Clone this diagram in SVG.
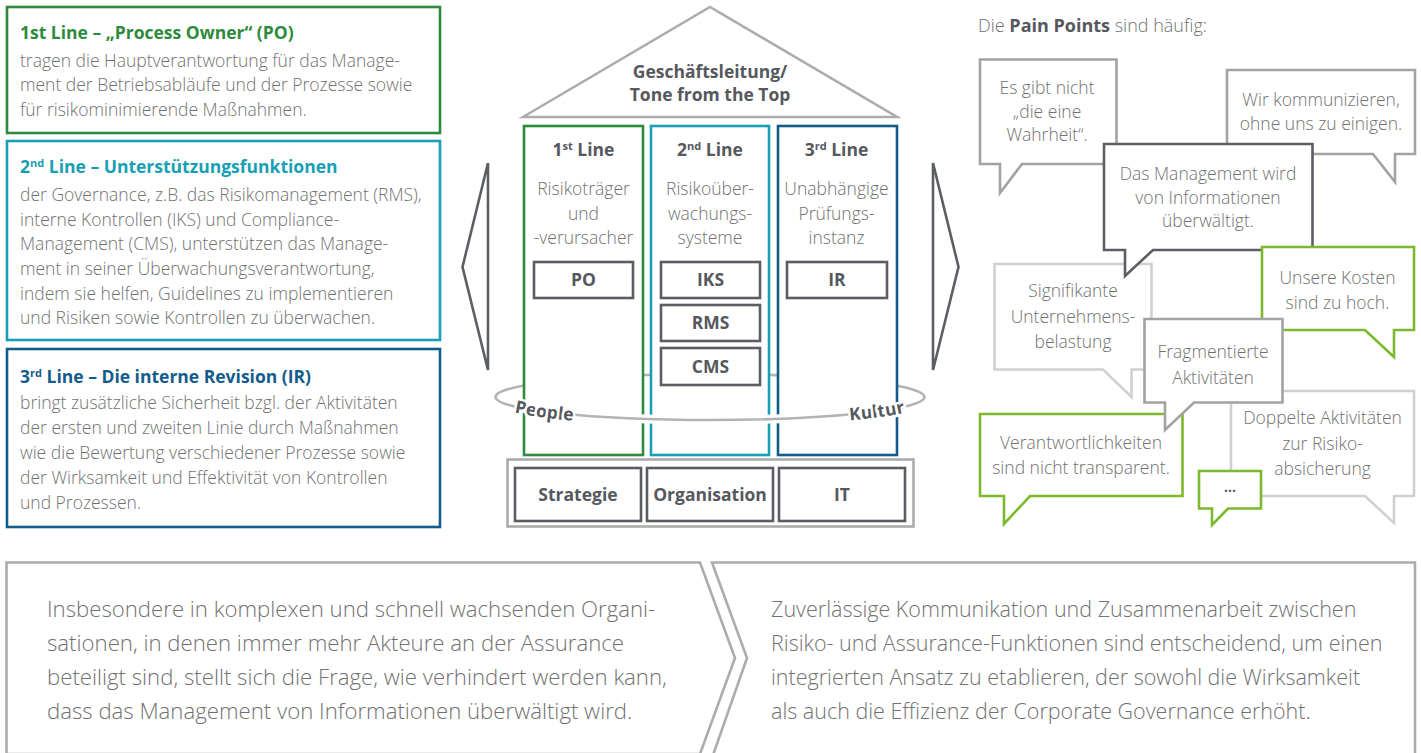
<svg xmlns="http://www.w3.org/2000/svg" width="1421" height="753" viewBox="0 0 1421 753">
<style>
text{font-family:"Open Sans","Liberation Sans",sans-serif;}
.t{font-weight:300;font-size:17.5px;fill:#717171}
.tb{font-weight:300;font-size:21.5px;fill:#717171}
.tbl{font-size:22.2px}
.hd{font-size:18px}
.h{font-weight:700;font-size:17.5px}
.c{text-anchor:middle}
.dk{fill:#55585d}
.g1{fill:#2e8a3c}.g2{fill:#17a0b4}.g3{fill:#135c8c}
.s1{stroke:#2e8a3c}.s2{stroke:#17a0b4}.s3{stroke:#135c8c}
.frame{fill:#fff;stroke-width:2.6}
.box{fill:#fff;stroke:#5a5d62;stroke-width:2.6}
.lg{fill:#fff;stroke:#acacac;stroke-width:2.6}
.bub{fill:#fff;stroke-width:2.6;stroke-linejoin:miter}
.bm{stroke:#a2a2a2}.bd{stroke:#5b5e63}.bg{stroke:#7cb92c}.bl{stroke:#d0d0d0}
.ring{font-size:17.5px;font-weight:700;fill:#55585d;stroke:#fff;stroke-width:5px;paint-order:stroke}
</style>

<!-- Left description boxes -->
<g id="box-line1">
<rect class="frame s1" x="7" y="7" width="433" height="126"/>
<text class="h g1" x="20" y="39">1st Line – „Process Owner“ (PO)</text>
<text class="t" x="20" y="66.5">tragen die Hauptverantwortung für das Manage-</text>
<text class="t" x="20" y="91">ment der Betriebsabläufe und der Prozesse sowie</text>
<text class="t" x="20" y="115.5">für risikominimierende Maßnahmen.</text>
</g>
<g id="box-line2">
<rect class="frame s2" x="7" y="141" width="433" height="199"/>
<text class="h g2" x="20" y="172.5">2<tspan font-size="11" dy="-6">nd</tspan><tspan dy="6"> Line – Unterstützungsfunktionen</tspan></text>
<text class="t" x="20" y="201">der Governance, z.B. das Risikomanagement (RMS),</text>
<text class="t" x="20" y="225.5">interne Kontrollen (IKS) und Compliance-</text>
<text class="t" x="20" y="250">Management (CMS), unterstützen das Manage-</text>
<text class="t" x="20" y="275">ment in seiner Überwachungsverantwortung,</text>
<text class="t" x="20" y="299.5">indem sie helfen, Guidelines zu implementieren</text>
<text class="t" x="20" y="324">und Risiken sowie Kontrollen zu überwachen.</text>
</g>
<g id="box-line3">
<rect class="frame s3" x="7" y="349" width="433" height="178"/>
<text class="h g3" x="20" y="383">3<tspan font-size="11" dy="-6">rd</tspan><tspan dy="6"> Line – Die interne Revision (IR)</tspan></text>
<text class="t" x="20" y="408.5">bringt zusätzliche Sicherheit bzgl. der Aktivitäten</text>
<text class="t" x="20" y="433.5">der ersten und zweiten Linie durch Maßnahmen</text>
<text class="t" x="20" y="458.5">wie die Bewertung verschiedener Prozesse sowie</text>
<text class="t" x="20" y="483.5">der Wirksamkeit und Effektivität von Kontrollen</text>
<text class="t" x="20" y="508.5">und Prozessen.</text>
</g>

<!-- House -->
<g id="roof">
<polygon class="lg" points="523,117 710,7 897,117"/>
<text class="h dk c" x="710" y="78">Geschäftsleitung/</text>
<text class="h dk c" x="710" y="101">Tone from the Top</text>
</g>

<g id="culture-ring-back">
<path d="M495.5,397 A214.5,23 0 0 1 924.5,397" fill="none" stroke="#b3b3b3" stroke-width="2.6"/>
</g>

<g id="col-line1">
<rect class="frame s1" x="524" y="126" width="119" height="329"/>
<text class="h dk c" x="583.5" y="156">1<tspan font-size="11" dy="-6">st</tspan><tspan dy="6"> Line</tspan></text>
<text class="t c" x="583.5" y="195">Risikoträger</text>
<text class="t c" x="583.5" y="219.5">und</text>
<text class="t c" x="583.5" y="244">-verursacher</text>
</g>
<g id="col-line2">
<rect class="frame s2" x="651" y="126" width="118" height="329"/>
<text class="h dk c" x="710" y="156">2<tspan font-size="11" dy="-6">nd</tspan><tspan dy="6"> Line</tspan></text>
<text class="t c" x="710" y="195">Risikoüber-</text>
<text class="t c" x="710" y="219.5">wachungs-</text>
<text class="t c" x="710" y="244">systeme</text>
</g>
<g id="col-line3">
<rect class="frame s3" x="778" y="126" width="119" height="329"/>
<text class="h dk c" x="836.5" y="156">3<tspan font-size="11" dy="-6">rd</tspan><tspan dy="6"> Line</tspan></text>
<text class="t c" x="836.5" y="195">Unabhängige</text>
<text class="t c" x="836.5" y="219.5">Prüfungs-</text>
<text class="t c" x="836.5" y="244">instanz</text>
</g>

<g id="node-po"><rect class="box" x="534" y="262" width="99" height="36"/><text class="h dk c" x="583.5" y="286">PO</text></g>
<g id="node-iks"><rect class="box" x="661" y="262" width="99" height="36"/><text class="h dk c" x="710.5" y="286">IKS</text></g>
<g id="node-rms"><rect class="box" x="661" y="305" width="99" height="36"/><text class="h dk c" x="710.5" y="329">RMS</text></g>
<g id="node-cms"><rect class="box" x="661" y="348" width="99" height="37"/><text class="h dk c" x="710.5" y="372.5">CMS</text></g>
<g id="node-ir"><rect class="box" x="787" y="262" width="100" height="36"/><text class="h dk c" x="837" y="286">IR</text></g>

<g id="culture-ring-front">
<path id="ringFront" d="M495.5,397 A214.5,23 0 0 0 924.5,397" fill="none" stroke="#fff" stroke-width="9"/>
<path d="M495.5,397 A214.5,23 0 0 0 924.5,397" fill="none" stroke="#b3b3b3" stroke-width="2.6"/>
<text class="ring" dy="6"><textPath href="#ringFront" startOffset="23">People</textPath></text>
<text class="ring" dy="6" text-anchor="end"><textPath href="#ringFront" startOffset="94.6%">Kultur</textPath></text>
</g>

<g id="foundation">
<rect class="lg" x="507.5" y="459.5" width="406" height="67"/>
</g>
<g id="node-strategie"><rect class="box" x="515" y="468" width="126" height="53"/><text class="h dk c" x="578" y="501">Strategie</text></g>
<g id="node-organisation"><rect class="box" x="647" y="468" width="126" height="53"/><text class="h dk c" x="710" y="501">Organisation</text></g>
<g id="node-it"><rect class="box" x="779" y="468" width="126" height="53"/><text class="h dk c" x="842" y="501">IT</text></g>

<g id="connectors" fill="#fff" stroke="#5b5e63" stroke-width="2.6" stroke-linejoin="miter">
<polygon points="488,163 462.5,267 488,370"/>
<polygon points="933,163 958.5,267 933,370"/>
</g>

<!-- Pain points -->
<g id="pain-heading">
<text class="t hd" x="978" y="32">Die <tspan font-weight="700" fill="#55585d">Pain Points</tspan> sind häufig:</text>
</g>
<g id="bubble-wahrheit">
<path class="bub bm" d="M980,59.5 H1116.5 V164 H1022 L1000,193 V164 H980 Z"/>
<text class="t c" x="1047" y="94">Es gibt nicht</text>
<text class="t c" x="1047" y="117.5">„die eine</text>
<text class="t c" x="1047" y="141">Wahrheit“.</text>
</g>
<g id="bubble-kommunizieren">
<path class="bub bm" d="M1227,70 H1415 V154 H1395 V182 L1373,154 H1227 Z"/>
<text class="t c" x="1321" y="106">Wir kommunizieren,</text>
<text class="t c" x="1321" y="129.5">ohne uns zu einigen.</text>
</g>
<g id="bubble-belastung">
<path class="bub bl" d="M994.5,264 H1151.5 V369.5 H1131.5 V397 L1103,369.5 H994.5 Z"/>
<text class="t c" x="1073" y="297">Signifikante</text>
<text class="t c" x="1073" y="322.5">Unternehmens-</text>
<text class="t c" x="1073" y="348">belastung</text>
</g>
<g id="bubble-management">
<path class="bub bd" d="M1104,144 H1312.5 V250 H1153 L1125,276 V250 H1104 Z"/>
<text class="t c" x="1208" y="180">Das Management wird</text>
<text class="t c" x="1208" y="203.5">von Informationen</text>
<text class="t c" x="1208" y="227">überwältigt.</text>
</g>
<g id="bubble-kosten">
<path class="bub bg" d="M1262,247 H1414 V330 H1394 V357 L1365,330 H1262 Z"/>
<text class="t c" x="1337.5" y="283.5">Unsere Kosten</text>
<text class="t c" x="1337.5" y="308.5">sind zu hoch.</text>
</g>
<g id="bubble-doppelt">
<path class="bub bl" d="M1231,391 H1414 V496 H1394 V523 L1365,496 H1231 Z"/>
<text class="t c" x="1322.5" y="424">Doppelte Aktivitäten</text>
<text class="t c" x="1322.5" y="449.5">zur Risiko-</text>
<text class="t c" x="1322.5" y="475">absicherung</text>
</g>
<g id="bubble-verantwortlichkeiten">
<path class="bub bg" d="M980,414 H1182.5 V496 H1030 L1004,524 V496 H980 Z"/>
<text class="t c" x="1081" y="448.5">Verantwortlichkeiten</text>
<text class="t c" x="1081" y="473.5">sind nicht transparent.</text>
</g>
<g id="bubble-fragmentiert">
<path class="bub bm" d="M1144.5,319 H1282.5 V402.5 H1194 L1165,430 V402.5 H1144.5 Z"/>
<text class="t c" x="1213" y="357.5">Fragmentierte</text>
<text class="t c" x="1213" y="383.5">Aktivitäten</text>
</g>
<g id="bubble-more">
<path class="bub bg" d="M1199,471 H1261 V508.5 H1228 L1212,525 V508.5 H1199 Z"/>
<text class="h dk c" x="1230" y="492" style="font-size:14px">...</text>
</g>

<!-- Bottom statements -->
<g id="statement-left">
<path class="lg" d="M6.5,562.5 H700 L735,658 L700,754 H6.5 Z"/>
<text class="tb tbl" x="47" y="617">Insbesondere in komplexen und schnell wachsenden Organi-</text>
<text class="tb tbl" x="47" y="651">sationen, in denen immer mehr Akteure an der Assurance</text>
<text class="tb tbl" x="47" y="685">beteiligt sind, stellt sich die Frage, wie verhindert werden kann,</text>
<text class="tb tbl" x="47" y="719">dass das Management von Informationen überwältigt wird.</text>
</g>
<g id="statement-right">
<path class="lg" d="M712,562.5 H1415 V758 H712 L747,658 Z"/>
<text class="tb" x="771" y="617">Zuverlässige Kommunikation und Zusammenarbeit zwischen</text>
<text class="tb" x="771" y="651">Risiko- und Assurance-Funktionen sind entscheidend, um einen</text>
<text class="tb" x="771" y="685">integrierten Ansatz zu etablieren, der sowohl die Wirksamkeit</text>
<text class="tb" x="771" y="719">als auch die Effizienz der Corporate Governance erhöht.</text>
</g>
</svg>
